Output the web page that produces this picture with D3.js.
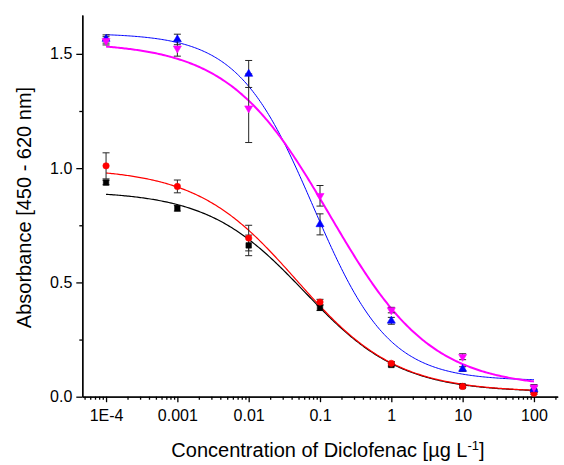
<!DOCTYPE html>
<html>
<head>
<meta charset="utf-8">
<script src="https://cdn.jsdelivr.net/npm/d3@7"></script>
<style>
  html, body { margin: 0; padding: 0; background: #fff; }
  svg { display: block; }
  text { font-family: "Liberation Sans", Arial, sans-serif; fill: #000; }
</style>
</head>
<body>
<svg id="chart" width="564" height="465"></svg>
<script>
// ---- data ----
const concentrations = [1e-4, 1e-3, 1e-2, 1e-1, 1, 10, 100];
const xTickLabels = ["1E-4", "0.001", "0.01", "0.1", "1", "10", "100"];
const yTicks = [0, 0.5, 1.0, 1.5];
const yMinorTicks = [0.25, 0.75, 1.25];

const blackVals   = [0.937, 0.824, 0.662, 0.389, 0.139, 0.046, 0.026];
const blackErr    = [0.010, 0.012, 0.045, 0.012, 0.008, 0.005, 0.006];
const redVals     = [1.010, 0.920, 0.694, 0.414, 0.146, 0.045, 0.015];
const redErr      = [0.057, 0.028, 0.056, 0.012, 0.008, 0.005, 0.005];
const blueVals    = [1.565, 1.563, 1.412, 0.754, 0.332, 0.121, 0.032];
const blueErr     = [0.018, 0.023, 0.059, 0.046, 0.015, 0.010, 0.012];
const magentaVals = [1.557, 1.524, 1.262, 0.879, 0.379, 0.175, 0.041];
const magentaErr  = [0.018, 0.034, 0.150, 0.045, 0.012, 0.013, 0.012];

// logistic fit parameters [A1 (top), A2 (bottom), log10 x0, p]
const blackFit   = [0.90, 0.02, -1.22, 0.64];
const redFit     = [1.00, 0.02, -1.33, 0.62];
const blueFit    = [1.59, 0.07, -1.092, 0.82];
const magentaFit = [1.55, 0.04, -0.864, 0.61];

const xTitle = "Concentration of Diclofenac [µg L";
const yTitle = "Absorbance [450 - 620 nm]";

// ---- layout ----
const svg = d3.select("#chart");
const x = d3.scaleLog().domain([Math.pow(10, -4.333), Math.pow(10, 2.333)]).range([82.3, 557.7]);
const y = d3.scaleLinear().domain([0, 1.67]).range([396.7, 15]);

const series = [
  {vals: blackVals,   err: blackErr,   fit: blackFit,   color: "#000000", width: 1.2, sym: "square"},
  {vals: redVals,     err: redErr,     fit: redFit,     color: "#ff0000", width: 1.2, sym: "circle"},
  {vals: blueVals,    err: blueErr,    fit: blueFit,    color: "#0000ff", width: 1.0, sym: "up"},
  {vals: magentaVals, err: magentaErr, fit: magentaFit, color: "#ff00ff", width: 2.0, sym: "down"}
];

// ---- axes ----
const minorX = x.ticks().filter(d => Math.abs(Math.log10(d) - Math.round(Math.log10(d))) > 1e-6);

const xAxisMinor = svg.append("g").attr("transform", `translate(0,${y(0)})`)
  .call(d3.axisBottom(x).tickValues(minorX).tickSize(3).tickSizeOuter(0).tickFormat(""));
const xAxis = svg.append("g").attr("transform", `translate(0,${y(0)})`)
  .call(d3.axisBottom(x).tickValues(concentrations).tickSize(5.5).tickSizeOuter(0)
    .tickPadding(7).tickFormat((d, i) => xTickLabels[i]));
const yAxisMinor = svg.append("g").attr("transform", `translate(${x.range()[0]},0)`)
  .call(d3.axisLeft(y).tickValues(yMinorTicks).tickSize(3).tickSizeOuter(0).tickFormat(""));
const yAxis = svg.append("g").attr("transform", `translate(${x.range()[0]},0)`)
  .call(d3.axisLeft(y).tickValues(yTicks).tickSize(6).tickSizeOuter(0)
    .tickPadding(4).tickFormat(d3.format(".1f")));

svg.selectAll(".domain, .tick line").attr("stroke", "#000").attr("stroke-width", 1.3);
svg.selectAll(".tick text").style("font-size", "16px").style("font-family", '"Liberation Sans", Arial, sans-serif').attr("fill", "#000");

// ---- curves ----
const logistic = (f, xv) => f[1] + (f[0] - f[1]) / (1 + Math.pow(xv / Math.pow(10, f[2]), f[3]));
const lo = Math.log10(concentrations[0]), hi = Math.log10(concentrations[concentrations.length - 1]);
const samples = d3.range(0, 301).map(i => Math.pow(10, lo + (hi - lo) * i / 300));
const line = d3.line().x(d => x(d[0])).y(d => y(d[1]));

series.forEach(s => {
  svg.append("path")
    .attr("d", line(samples.map(c => [c, logistic(s.fit, c)])))
    .attr("fill", "none").attr("stroke", s.color).attr("stroke-width", s.width);
});

// ---- error bars ----
series.forEach(s => {
  const g = svg.append("g").attr("stroke", "#262626").attr("stroke-width", 1);
  concentrations.forEach((c, i) => {
    const cx = x(c), top = y(s.vals[i] + s.err[i]), bot = y(s.vals[i] - s.err[i]);
    g.append("line").attr("x1", cx).attr("x2", cx).attr("y1", top).attr("y2", bot);
    g.append("line").attr("x1", cx - 3.5).attr("x2", cx + 3.5).attr("y1", top).attr("y2", top);
    g.append("line").attr("x1", cx - 3.5).attr("x2", cx + 3.5).attr("y1", bot).attr("y2", bot);
  });
});

// ---- markers ----
const symType = {square: d3.symbolSquare, circle: d3.symbolCircle, up: d3.symbolTriangle, down: d3.symbolTriangle};
const symSize = {square: 30, circle: 32, up: 28, down: 28};
series.forEach(s => {
  const sym = d3.symbol().type(symType[s.sym]).size(symSize[s.sym]);
  concentrations.forEach((c, i) => {
    svg.append("path").attr("d", sym())
      .attr("transform", `translate(${x(c)},${y(s.vals[i])})` + (s.sym === "down" ? " rotate(180)" : ""))
      .attr("fill", s.color).attr("stroke", s.color).attr("stroke-width", 0.6);
  });
});

// ---- titles ----
const xt = svg.append("text").attr("x", 328).attr("y", 457).attr("text-anchor", "middle")
  .style("font-size", "20px");
xt.append("tspan").text(xTitle);
xt.append("tspan").attr("dy", -7).style("font-size", "13px").text("-1");
xt.append("tspan").attr("dy", 7).text("]");

svg.append("text").attr("transform", "translate(31,207.5) rotate(-90)")
  .attr("text-anchor", "middle").style("font-size", "20px").text(yTitle);
</script>
</body>
</html>
